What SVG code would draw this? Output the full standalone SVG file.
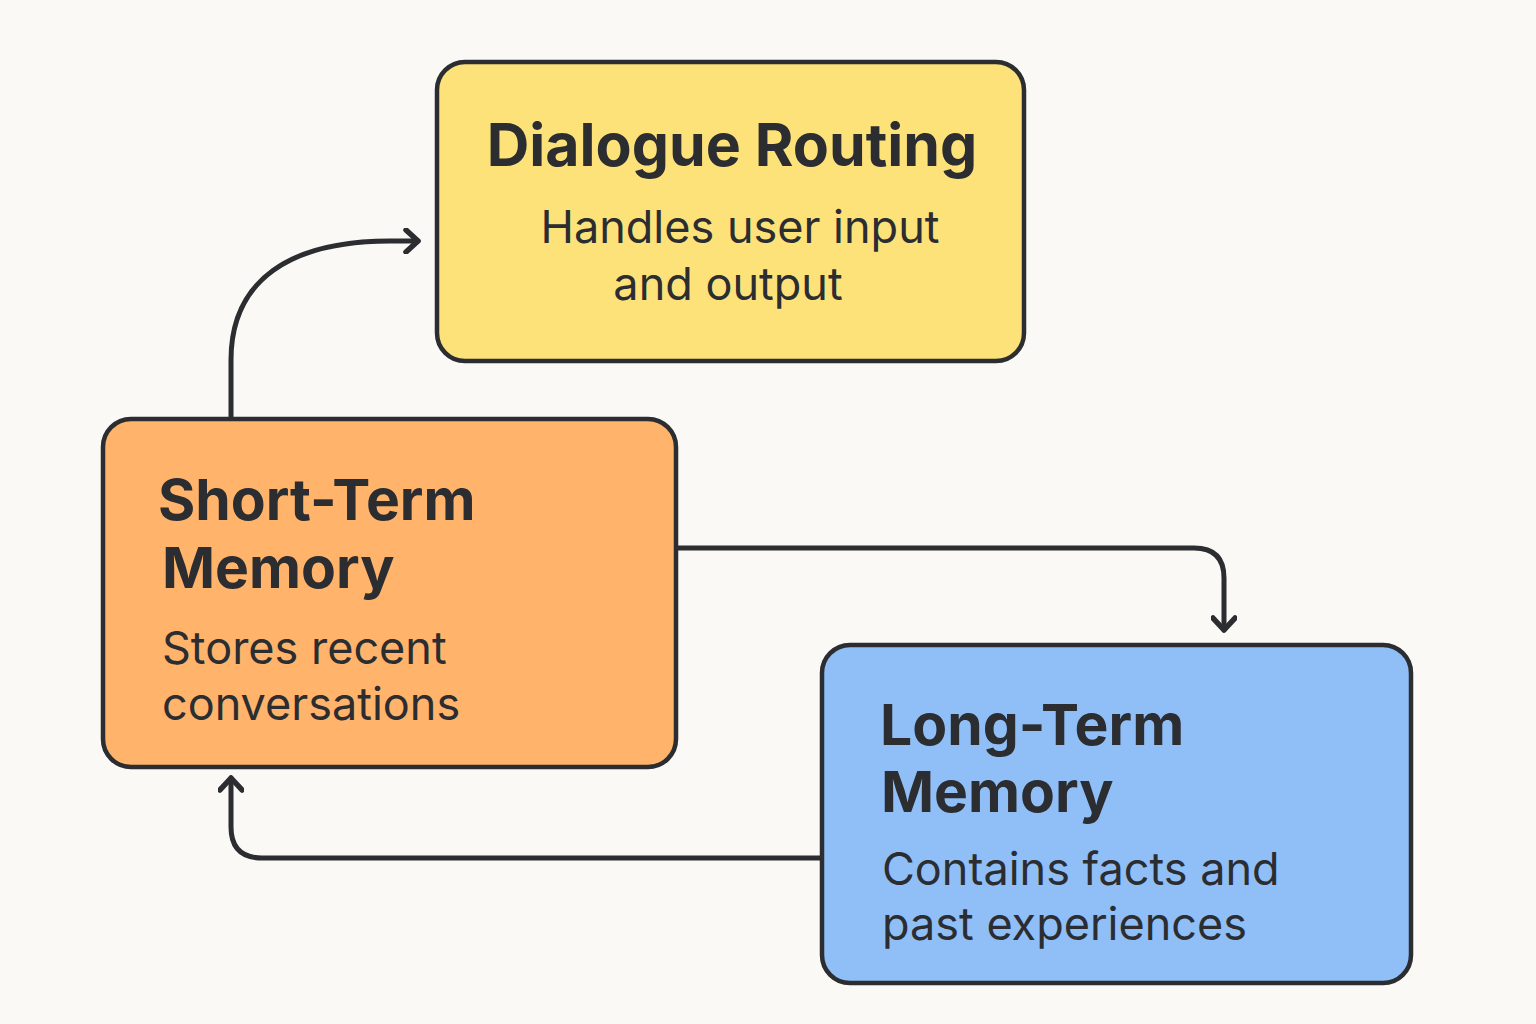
<svg xmlns="http://www.w3.org/2000/svg" width="1536" height="1024" viewBox="0 0 1536 1024">
<defs>
<style>
.box{stroke:#2b2d31;stroke-width:4.5}
.t{font-family:Inter,"Noto Sans","Liberation Sans",sans-serif;fill:#2b2d31}
.h{font-weight:700;font-size:57px}
.d{font-weight:400;font-size:45px}
.c{fill:none;stroke:#2b2d31;stroke-width:5;stroke-linecap:round;stroke-linejoin:round}
</style>
<marker id="ah" viewBox="0 0 26 26" refX="16" refY="13" markerWidth="26" markerHeight="26" markerUnits="userSpaceOnUse" orient="auto">
<path d="M4,2 L16,13 L4,24" fill="none" stroke="#2b2d31" stroke-width="5.5" stroke-linecap="round" stroke-linejoin="round"/>
</marker>
</defs>
<rect width="1536" height="1024" fill="#faf9f5"/>
<g id="connectors">
<path class="c" d="M231,417 L231,360 C231,280 290,241 390,241 L418,241" marker-end="url(#ah)"/>
<path class="c" d="M678,548 L1194,548 Q1224,548 1224,578 L1224,630" marker-end="url(#ah)"/>
<path class="c" d="M820,858 L262,858 Q231,858 231,827 L231,778" marker-end="url(#ah)"/>
</g>
<g id="dialogue-routing">
<rect class="box" x="437" y="62" width="587" height="299" rx="28" fill="#fde27a"/>
<text class="t h" x="732" y="166" text-anchor="middle" style="font-size:59px">Dialogue Routing</text>
<text class="t d" x="740" y="243" text-anchor="middle">Handles user input</text>
<text class="t d" x="728" y="300" text-anchor="middle">and output</text>
</g>
<g id="short-term-memory">
<rect class="box" x="103" y="419" width="573" height="348" rx="28" fill="#ffb36b"/>
<text class="t h" x="158" y="520">Short-Term</text>
<text class="t h" x="162" y="588">Memory</text>
<text class="t d" x="162" y="664">Stores recent</text>
<text class="t d" x="162" y="720">conversations</text>
</g>
<g id="long-term-memory">
<rect class="box" x="822" y="645" width="589" height="338" rx="28" fill="#90bff8"/>
<text class="t h" x="880" y="745">Long-Term</text>
<text class="t h" x="881" y="812">Memory</text>
<text class="t d" x="882" y="885">Contains facts and</text>
<text class="t d" x="882" y="940">past experiences</text>
</g>
</svg>
